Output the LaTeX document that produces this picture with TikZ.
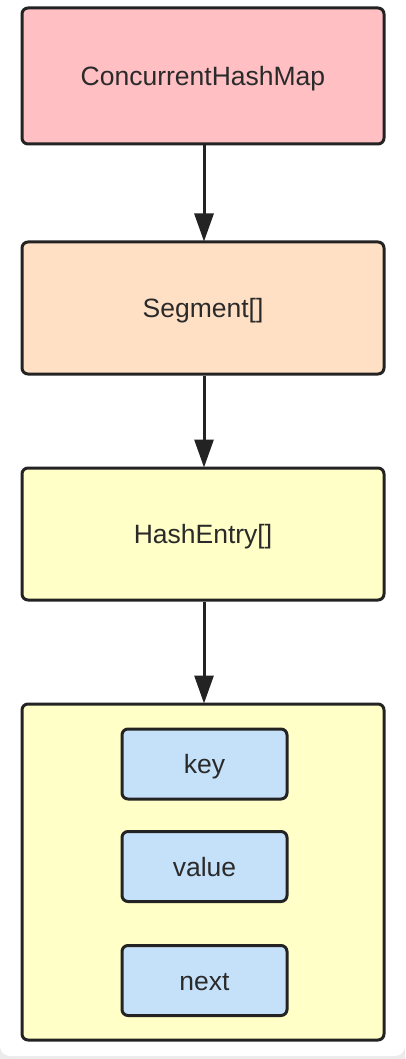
\documentclass[tikz,border=0pt]{standalone}
\usepackage{fontspec}
\setmainfont{Liberation Sans}
\usetikzlibrary{arrows.meta}
\definecolor{edge}{HTML}{232323}
\definecolor{txt}{HTML}{2A2A2A}
\definecolor{pinkfill}{HTML}{FFBFC3}
\definecolor{peachfill}{HTML}{FFE0C5}
\definecolor{yellowfill}{HTML}{FFFFC7}
\definecolor{bluefill}{HTML}{C5E1FA}
\definecolor{frame}{HTML}{EBEBEB}
\begin{document}
\begin{tikzpicture}[x=1pt,y=-1pt,
  box/.style={draw=edge, line width=3pt, rounded corners=6pt, text=txt,
    font=\fontsize{26.5}{30}\selectfont, inner sep=0pt, minimum width=362pt,
    text height=19pt, text depth=0pt},
  field/.style={box, fill=bluefill, minimum width=165pt, minimum height=70pt},
  link/.style={draw=edge, line width=3pt, -{Triangle[length=28pt,width=19pt]}, shorten >=-1pt}]
  \useasboundingbox (0,0) rectangle (405,1059);
  % page background with a light rounded frame
  \begin{scope}
    \clip (0,0) rectangle (405,1059);
    \fill[frame] (0,0) rectangle (405,1059);
    \fill[white, rounded corners=10pt] (0,-10) rectangle (405,1056);
  \end{scope}

  \node[box, fill=pinkfill, minimum height=136pt] (map) at (203,76) {ConcurrentHashMap};
  \node[box, fill=peachfill, minimum height=132pt] (seg) at (203,308) {Segment[]};
  \node[box, fill=yellowfill, minimum height=132pt] (tab) at (203,534) {HashEntry[]};
  \node[box, fill=yellowfill, minimum height=336pt] (entry) at (203,872) {};

  \node[field] (key) at (204.5,764) {key};
  \node[field] (val) at (204.5,866.5) {value};
  \node[field] (nxt) at (204.5,980.5) {next};

  \draw[link] (map.south -| 204,0) -- (seg.north -| 204,0);
  \draw[link] (seg.south -| 204,0) -- (tab.north -| 204,0);
  \draw[link] (tab.south -| 204,0) -- (entry.north -| 204,0);
\end{tikzpicture}
\end{document}
